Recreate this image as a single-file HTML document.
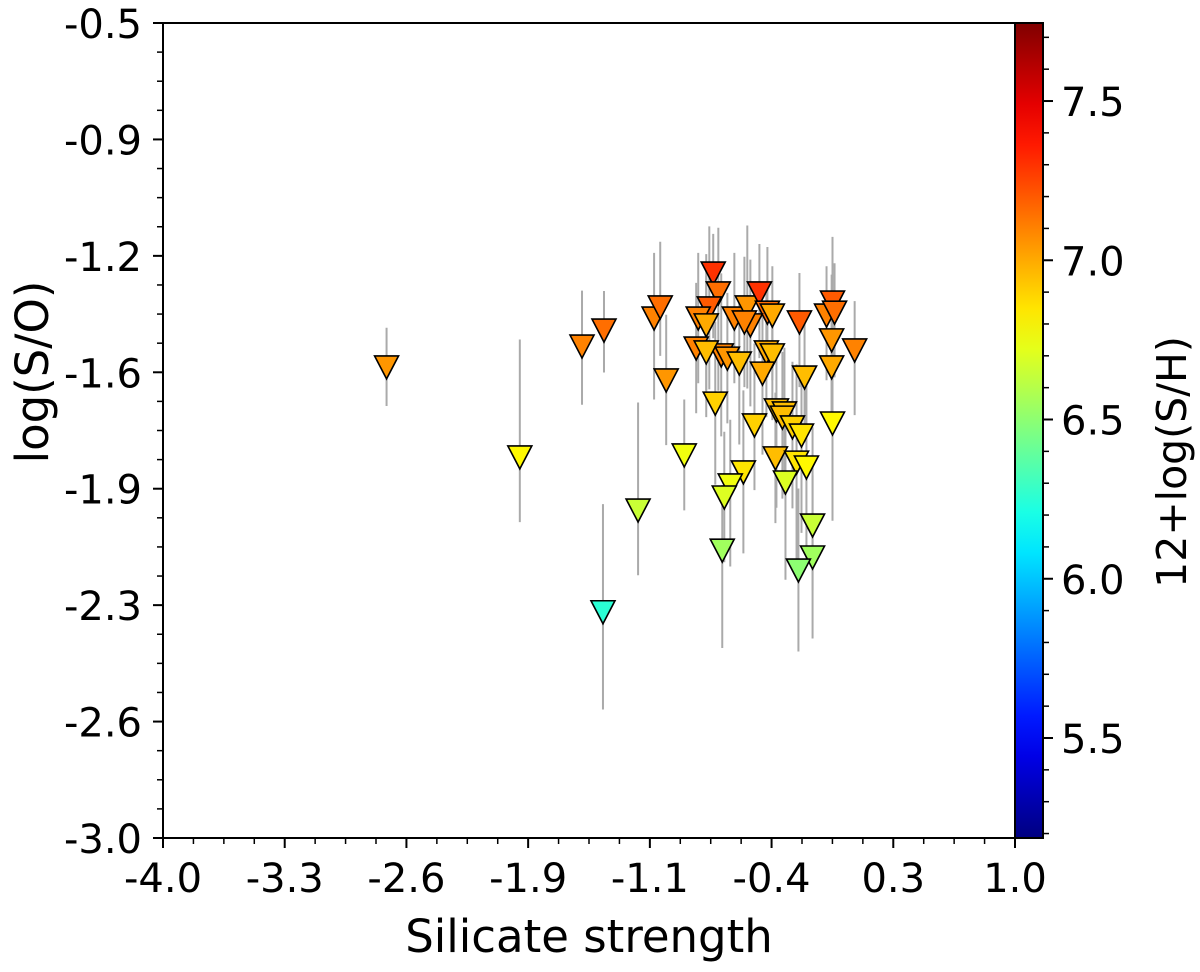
<!DOCTYPE html>
<html><head><meta charset="utf-8"><style>
html,body{margin:0;padding:0;background:#fff;}
svg{display:block;font-family:"DejaVu Sans","Liberation Sans",sans-serif;}
</style></head><body>
<svg id="chart" width="1200" height="972" viewBox="0 0 1200 972" xmlns="http://www.w3.org/2000/svg">
<defs><linearGradient id="jet" x1="0" y1="1" x2="0" y2="0"></linearGradient></defs>
<g id="errs"></g>
<g id="marks"></g>
<g id="axes"></g>
<text x="589" y="952" font-size="45" text-anchor="middle">Silicate strength</text>
<text transform="translate(48,372) rotate(-90)" font-size="45" text-anchor="middle">log(S/O)</text>
<text transform="translate(1186,462) rotate(-90)" font-size="41" text-anchor="middle">12+log(S/H)</text>
</svg>
<script>
const xs=[-2.688,-1.906,-1.541,-1.412,-1.418,-1.212,-1.118,-1.082,-1.047,-0.941,-0.771,-0.741,-0.794,-0.859,-0.812,-0.647,-0.571,-0.500,-0.453,-0.553,-0.424,-0.588,-0.265,-0.071,-0.106,-0.059,-0.076,0.059,-0.871,-0.724,-0.812,-0.688,-0.618,-0.459,-0.424,-0.482,-0.235,-0.076,-0.759,-0.400,-0.353,-0.529,-0.365,-0.306,-0.253,-0.071,-0.406,-0.282,-0.224,-0.594,-0.671,-0.706,-0.347,-0.188,-0.718,-0.188,-0.271];
const ys=[-1.555,-1.831,-1.491,-1.442,-2.306,-1.994,-1.405,-1.371,-1.595,-1.825,-1.267,-1.328,-1.374,-1.405,-1.426,-1.405,-1.371,-1.328,-1.387,-1.426,-1.396,-1.417,-1.417,-1.356,-1.396,-1.387,-1.472,-1.503,-1.497,-1.518,-1.509,-1.528,-1.543,-1.509,-1.518,-1.574,-1.586,-1.555,-1.666,-1.687,-1.696,-1.733,-1.709,-1.739,-1.764,-1.727,-1.834,-1.847,-1.862,-1.877,-1.917,-1.954,-1.908,-2.040,-2.117,-2.138,-2.178];
const cs=[7.05,6.8,7.1,7.15,6.25,6.65,7.1,7.15,7.05,6.75,7.3,7.15,7.2,7.1,7.0,7.1,7.05,7.3,7.15,7.1,7.0,7.1,7.2,7.2,7.1,7.15,7.05,7.1,7.1,7.1,6.95,7.05,6.95,7.0,6.95,7.0,6.95,7.0,6.9,6.95,6.95,6.9,6.95,6.9,6.85,6.8,6.95,6.85,6.8,6.85,6.75,6.7,6.7,6.65,6.55,6.55,6.5];
const errUp=[0.12,0.36,0.17,0.12,0.33,0.33,0.2,0.2,0.2,0.17,0.12,0.2,0.25,0.2,0.15,0.2,0.25,0.15,0.2,0.2,0.15,0.2,0.15,0.2,0.15,0.15,0.2,0.15,0.2,0.25,0.3,0.2,0.2,0.2,0.15,0.2,0.2,0.15,0.25,0.2,0.2,0.25,0.2,0.2,0.2,0.15,0.2,0.3,0.25,0.25,0.2,0.2,0.25,0.3,0.2,0.25,0.25];
const errDn=[0.12,0.2,0.18,0.13,0.3,0.2,0.25,0.15,0.2,0.17,0.2,0.3,0.25,0.2,0.2,0.2,0.25,0.2,0.2,0.25,0.2,0.2,0.2,0.2,0.2,0.2,0.25,0.2,0.2,0.25,0.2,0.2,0.25,0.2,0.2,0.25,0.2,0.2,0.25,0.3,0.25,0.2,0.25,0.25,0.3,0.3,0.2,0.3,0.3,0.25,0.25,0.2,0.3,0.2,0.3,0.25,0.25];
const xTickLabels=["-4.0","-3.3","-2.6","-1.9","-1.1","-0.4","0.3","1.0"];
const yTickLabels=["-0.5","-0.9","-1.2","-1.6","-1.9","-2.3","-2.6","-3.0"];
const cTicks=[5.5,6.0,6.5,7.0,7.5];

const L=163,R=1015,T=23,B=838,XMIN=-4,XMAX=1,YMAX=-0.5,YMIN=-3;
const CMIN=5.186,CMAX=7.745,CBL=1015,CBR=1043;
const sx=v=>L+(v-XMIN)/(XMAX-XMIN)*(R-L);
const sy=v=>T+(YMAX-v)/(YMAX-YMIN)*(B-T);
const sc=v=>B-(v-CMIN)/(CMAX-CMIN)*(B-T);
const NS="http://www.w3.org/2000/svg";
function clip(v){return Math.max(0,Math.min(1,v));}
function jet(t){const r=clip(1.5-Math.abs(4*t-3)),g=clip(1.5-Math.abs(4*t-2)),b=clip(1.5-Math.abs(4*t-1));return `rgb(${Math.round(r*255)},${Math.round(g*255)},${Math.round(b*255)})`;}
function mk(tag,attrs,parent){const e=document.createElementNS(NS,tag);for(const k in attrs)e.setAttribute(k,attrs[k]);parent.appendChild(e);return e;}
const grad=document.getElementById('jet');
for(let i=0;i<=20;i++){mk('stop',{offset:i/20,'stop-color':jet(i/20)},grad);}
const errs=document.getElementById('errs'),marks=document.getElementById('marks'),axes=document.getElementById('axes');
for(let i=0;i<xs.length;i++){
  const l=mk('line',{x1:sx(xs[i]),x2:sx(xs[i]),y1:sy(ys[i]+errUp[i]),y2:sy(ys[i]-errDn[i]),stroke:'#aaa','stroke-width':2},errs);
  
  
}
for(let i=0;i<xs.length;i++){
  const x=sx(xs[i]),y=sy(ys[i]);
  const p=mk('polygon',{points:`${x-12},${y-11} ${x+12},${y-11} ${x},${y+12}`,fill:jet((cs[i]-CMIN)/(CMAX-CMIN)),stroke:'#000','stroke-width':1.6,'stroke-linejoin':'miter'},marks);
  
  
}
const cb=mk('rect',{x:CBL,y:T,width:CBR-CBL,height:B-T,fill:'url(#jet)',stroke:'#000','stroke-width':2},axes);


const frame=mk('rect',{x:L,y:T,width:R-L,height:B-T,fill:'none',stroke:'#000','stroke-width':2},axes);


for(let i=0;i<xTickLabels.length;i++){
  const v=XMIN+i*(XMAX-XMIN)/(xTickLabels.length-1),x=sx(v);
  mk('line',{x1:x,x2:x,y1:B,y2:B+10,stroke:'#000','stroke-width':2},axes);
  const t=mk('text',{x:x,y:B+54,'font-size':40,'text-anchor':'middle'},axes);t.textContent=xTickLabels[i];
  
  
  if(i<xTickLabels.length-1)for(let k=1;k<4;k++){const xm=sx(v+k*(XMAX-XMIN)/(xTickLabels.length-1)/4);mk('line',{x1:xm,x2:xm,y1:B,y2:B+6,stroke:'#000','stroke-width':1.5},axes);}
}
for(let i=0;i<yTickLabels.length;i++){
  const v=YMAX-i*(YMAX-YMIN)/(yTickLabels.length-1),y=sy(v);
  mk('line',{x1:L-10,x2:L,y1:y,y2:y,stroke:'#000','stroke-width':2},axes);
  const t=mk('text',{x:L-21,y:y+15,'font-size':40,'text-anchor':'end'},axes);t.textContent=yTickLabels[i];
  
  
  if(i<yTickLabels.length-1)for(let k=1;k<4;k++){const ym=sy(v-k*(YMAX-YMIN)/(yTickLabels.length-1)/4);mk('line',{x1:L-6,x2:L,y1:ym,y2:ym,stroke:'#000','stroke-width':1.5},axes);}
}
for(let v=5.2;v<=7.75;v+=0.1){const y=sc(v);const maj=Math.abs(v*2-Math.round(v*2))<0.01;mk('line',{x1:CBR,x2:CBR+(maj?10:6),y1:y,y2:y,stroke:'#000','stroke-width':maj?2:1.5},axes);}
for(const c of cTicks){
  const t=mk('text',{x:CBR+18,y:sc(c)+15,'font-size':40},axes);t.textContent=c.toFixed(1);
  
  
}
</script>
</body></html>
